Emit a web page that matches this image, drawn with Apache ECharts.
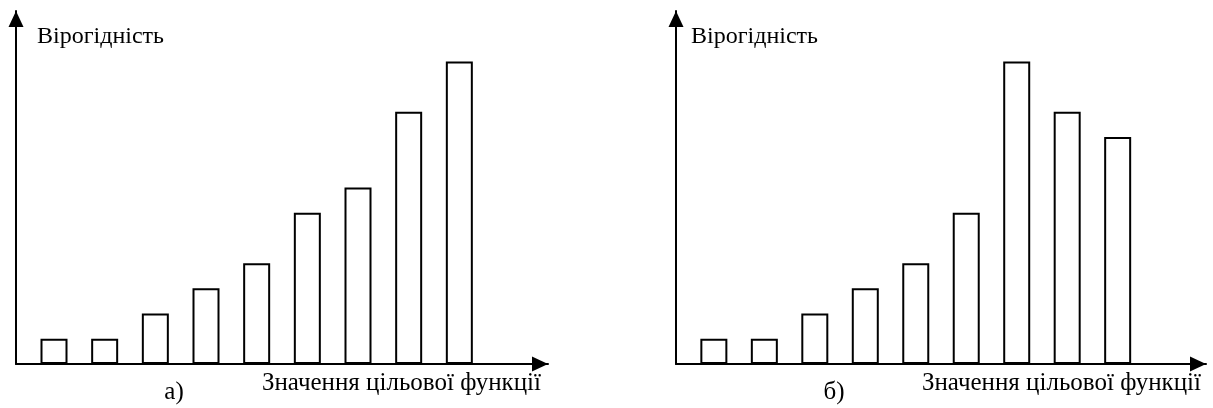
<!DOCTYPE html>
<html>
<head>
<meta charset="utf-8">
<script src="https://cdn.jsdelivr.net/npm/echarts@6/dist/echarts.min.js"></script>
<style>
  html, body { margin: 0; padding: 0; background: #fff; }
  #chart { width: 1213px; height: 408px; }
</style>
</head>
<body>
<div id="chart"></div>
<script>
// Ordinal positions of the objective-function values (x)
const positions = [1, 2, 3, 4, 5, 6, 7, 8, 9];
// Likelihood of each value, panel а)
const likelihoodA = [1, 1, 2, 3, 4, 6, 7, 10, 12];
// Likelihood of each value, panel б)
const likelihoodB = [1, 1, 2, 3, 4, 6, 12, 10, 9];

const yAxisTitle = 'Вірогідність';
const xAxisTitle = 'Значення цільової функції';
const panelTitles = ['а)', 'б)'];

const FONT = '"Liberation Serif", "Times New Roman", serif';

function makeXAxis(gridIndex) {
  return {
    type: 'value', gridIndex: gridIndex, min: 0.25, max: 10.75,
    axisLine: {
      show: true, onZero: false,
      lineStyle: { color: '#000', width: 2 },
      symbol: ['none', 'triangle'], symbolSize: [15, 16], symbolOffset: [0, -8]
    },
    axisTick: { show: false }, axisLabel: { show: false }, splitLine: { show: false }
  };
}
function makeYAxis(gridIndex) {
  return {
    type: 'value', gridIndex: gridIndex, min: 0, max: 14,
    axisLine: {
      show: true, onZero: false,
      lineStyle: { color: '#000', width: 2 },
      symbol: ['none', 'triangle'], symbolSize: [15, 16], symbolOffset: [0, -8]
    },
    axisTick: { show: false }, axisLabel: { show: false }, splitLine: { show: false }
  };
}
function makeBars(values, idx) {
  return {
    type: 'bar', xAxisIndex: idx, yAxisIndex: idx,
    data: positions.map((p, i) => [p, values[i]]),
    barWidth: 27,
    itemStyle: { color: '#fff', borderColor: '#000', borderWidth: 2 },
    emphasis: { disabled: true },
    silent: true
  };
}
function label(text, x, y, align, size) {
  return {
    type: 'text', x: x, y: y, silent: true,
    style: { text: text, fill: '#000', font: size + 'px ' + FONT, align: align, verticalAlign: 'middle' }
  };
}

const chart = echarts.init(document.getElementById('chart'), null, { renderer: 'canvas' });
chart.setOption({
  animation: false,
  backgroundColor: '#fff',
  grid: [
    { left: 16, top: 11, width: 532, height: 353 },
    { left: 676, top: 11, width: 530, height: 353 }
  ],
  xAxis: [makeXAxis(0), makeXAxis(1)],
  yAxis: [makeYAxis(0), makeYAxis(1)],
  series: [makeBars(likelihoodA, 0), makeBars(likelihoodB, 1)],
  graphic: [
    label(yAxisTitle, 37, 37, 'left', 24),
    label(yAxisTitle, 691, 37, 'left', 24),
    label(xAxisTitle, 541, 383, 'right', 25),
    label(xAxisTitle, 1201, 383, 'right', 25),
    label(panelTitles[0], 174, 392, 'center', 25),
    label(panelTitles[1], 834, 392, 'center', 25)
  ]
});
</script>
</body>
</html>
